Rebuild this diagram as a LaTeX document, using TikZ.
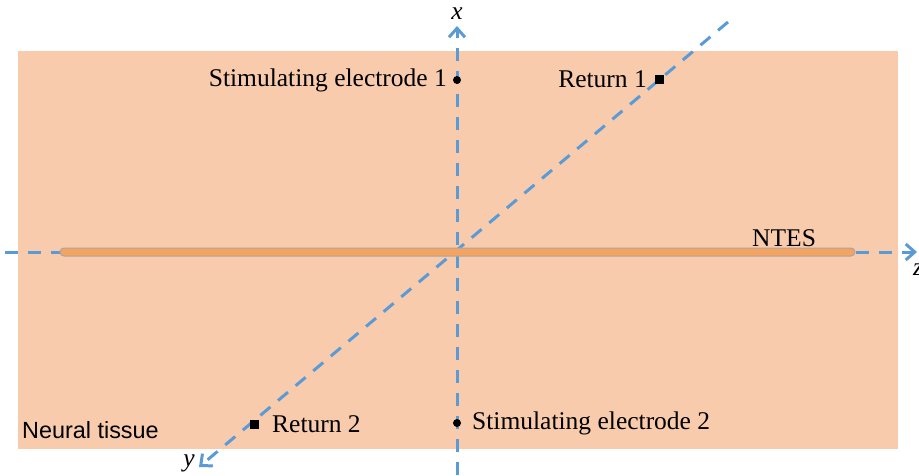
\documentclass[tikz,border=0pt]{standalone}
\usepackage{fontspec}
\setmainfont{Liberation Serif}
\newfontfamily\labelsans{Liberation Sans}
\usetikzlibrary{arrows.meta}
\definecolor{tissue}{HTML}{F8CBAD}
\definecolor{axisblue}{HTML}{5B9BD5}
\definecolor{rodfill}{HTML}{F4A460}
\definecolor{rodedge}{HTML}{A6A6A6}
\tikzset{
  axisline/.style={draw=axisblue, line width=3pt, dash pattern=on 13pt off 10pt,
    -{Straight Barb[length=9pt,width=16pt,line width=3pt]}},
  lbl/.style={font=\fontsize{25.5}{30}\selectfont, inner sep=0pt},
  axlbl/.style={font=\fontsize{25.5}{30}\selectfont\itshape, inner sep=0pt},
  elec/.style={circle, fill=black, minimum size=8pt, inner sep=0pt},
  ret/.style={rectangle, fill=black, minimum size=9pt, inner sep=0pt},
}
\begin{document}
\begin{tikzpicture}[x=1pt,y=-1pt]
\useasboundingbox (0,0) rectangle (919,475);
\fill[tissue] (18,51) rectangle (898,449);
% axes
\coordinate (o) at (457,252);
\coordinate (zs) at (5,252);
\coordinate (ze) at (917,252);
\coordinate (xs) at (457,475);
\coordinate (xe) at (457,26);
\coordinate (ys) at (728,22);
\coordinate (ye) at (199,467);
\draw[axisline] (zs) -- (ze);
\draw[axisline] (xs) -- (xe);
\draw[axisline] (ys) -- (ye);
% rod on top of the axes
\node[draw=rodedge, fill=rodfill, line width=1pt, rounded corners=4pt,
  minimum width=795pt, minimum height=8pt, inner sep=0pt] (rod) at (457.5,252) {};
\node[axlbl] (xl) at (457,14) {x};
\node[axlbl] (yl) at (189,463) {y};
\node[axlbl] (zl) at (918,270) {z};
% electrodes
\node[elec] (s1) at (457,80) {};
\node[lbl, anchor=east] (s1l) at (447,80) {Stimulating electrode 1};
\node[elec] (s2) at (457,423) {};
\node[lbl, anchor=west] (s2l) at (472,423) {Stimulating electrode 2};
\node[ret] (r1) at (659,79) {};
\node[lbl, anchor=east] (r1l) at (647,79) {Return 1};
\node[ret] (r2) at (254,424) {};
\node[lbl, anchor=west] (r2l) at (272,424) {Return 2};
\node[lbl, anchor=west] (ntes) at (752,238) {NTES};
\node[lbl, anchor=west, font=\labelsans\fontsize{23.4}{28}\selectfont] (tissue) at (22,430) {Neural tissue};
\end{tikzpicture}
\end{document}
